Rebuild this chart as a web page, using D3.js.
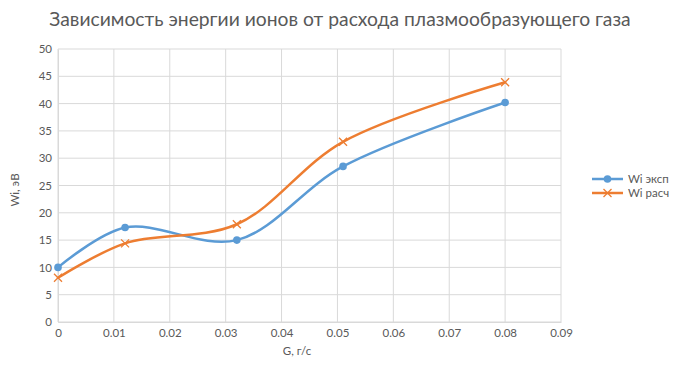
<!DOCTYPE html>
<html lang="ru">
<head>
  <meta charset="UTF-8">
  <title>Зависимость энергии ионов</title>
  <script src="https://d3js.org/d3.v7.min.js"></script>
  <style>
    body { margin: 0; padding: 0; background: #fff; }
    svg { display: block; font-family: Lato, "Open Sans", sans-serif; }
  </style>
</head>
<body>
<svg id="chart" width="685" height="378"></svg>
<script>
const title = "Зависимость энергии ионов от расхода плазмообразующего газа";
const xLabel = "G, г/с";
const yLabel = "Wi, эВ";

const gValues = [0, 0.012, 0.032, 0.051, 0.08];
const wiExp = [10, 17.3, 15, 28.5, 40.2];
const wiCalc = [8.1, 14.4, 17.9, 33.0, 43.9];

const xTicks = [0, 0.01, 0.02, 0.03, 0.04, 0.05, 0.06, 0.07, 0.08, 0.09];
const yTicks = [0, 5, 10, 15, 20, 25, 30, 35, 40, 45, 50];

const series = [
  { name: "Wi эксп", values: wiExp, color: "#5b9bd5", marker: "circle" },
  { name: "Wi расч", values: wiCalc, color: "#ed7d31", marker: "cross" }
];

const svg = d3.select("#chart");
const plotL = 58, plotR = 561, plotT = 49, plotB = 322;

const x = d3.scaleLinear().domain([0, 0.09]).range([plotL, plotR]);
const y = d3.scaleLinear().domain([0, 50]).range([plotB, plotT]);

const grid = svg.append("g");
grid.selectAll("line.h")
  .data(yTicks)
  .join("line")
  .attr("x1", plotL).attr("x2", plotR)
  .attr("y1", d => y(d)).attr("y2", d => y(d))
  .attr("stroke", "#d9d9d9");
grid.selectAll("line.v")
  .data(xTicks)
  .join("line")
  .attr("x1", d => x(d)).attr("x2", d => x(d))
  .attr("y1", plotT).attr("y2", plotB)
  .attr("stroke", "#d9d9d9");

const xAxis = svg.append("g")
  .attr("transform", `translate(0,${plotB})`)
  .call(d3.axisBottom(x).tickValues(xTicks).tickSize(0).tickPadding(7)
    .tickFormat(d => d === 0 ? "0" : String(+d.toFixed(2))));
xAxis.select(".domain").attr("stroke", "#d9d9d9");

const yAxis = svg.append("g")
  .attr("transform", `translate(${plotL},0)`)
  .call(d3.axisLeft(y).tickValues(yTicks).tickSize(0).tickPadding(6));
yAxis.select(".domain").attr("stroke", "#d9d9d9");

svg.selectAll(".tick text")
  .attr("fill", "#595959")
  .style("font-size", "11.5px")
  .style("font-family", "Lato, sans-serif");

const line = d3.line()
  .x((d, i) => x(gValues[i]))
  .y(d => y(d))
  .curve(d3.curveCatmullRom.alpha(0.5));

series.forEach(s => {
  svg.append("path")
    .datum(s.values)
    .attr("fill", "none")
    .attr("stroke", s.color)
    .attr("stroke-width", 2.5)
    .attr("stroke-linecap", "round")
    .attr("d", line);

  const pts = svg.append("g");
  s.values.forEach((v, i) => drawMarker(pts, s, x(gValues[i]), y(v)));
});

function drawMarker(g, s, cx, cy) {
  if (s.marker === "circle") {
    g.append("circle").attr("cx", cx).attr("cy", cy).attr("r", 3.8).attr("fill", s.color);
  } else {
    const r = 4;
    g.append("path")
      .attr("d", `M${cx - r},${cy - r}L${cx + r},${cy + r}M${cx - r},${cy + r}L${cx + r},${cy - r}`)
      .attr("stroke", s.color).attr("stroke-width", 1.3).attr("fill", "none");
  }
}

// legend
const legend = svg.append("g");
series.forEach((s, i) => {
  const ly = 179 + i * 14;
  legend.append("line")
    .attr("x1", 592).attr("x2", 623).attr("y1", ly).attr("y2", ly)
    .attr("stroke", s.color).attr("stroke-width", 2.5);
  drawMarker(legend, s, 607.5, ly);
  legend.append("text")
    .attr("x", 628).attr("y", ly + 4)
    .attr("fill", "#595959")
    .style("font-size", "11.5px")
    .text(s.name);
});

svg.append("text")
  .attr("x", 340).attr("y", 26)
  .attr("text-anchor", "middle")
  .attr("fill", "#595959")
  .style("font-size", "19.3px")
  .text(title);

svg.append("text")
  .attr("x", 297).attr("y", 355)
  .attr("text-anchor", "middle")
  .attr("fill", "#595959")
  .style("font-size", "11.5px")
  .text(xLabel);

svg.append("text")
  .attr("transform", "translate(19,190) rotate(-90)")
  .attr("text-anchor", "middle")
  .attr("fill", "#595959")
  .style("font-size", "11.5px")
  .text(yLabel);
</script>
</body>
</html>
